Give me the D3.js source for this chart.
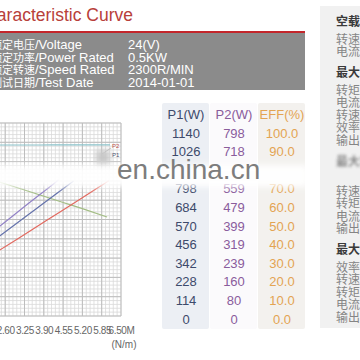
<!DOCTYPE html>
<html>
<head>
<meta charset="utf-8">
<script src="https://cdn.jsdelivr.net/npm/d3@7"></script>
<style>
  body { margin: 0; background: #fff; }
  svg { display: block; font-family: "Liberation Sans", Arial, sans-serif; }
</style>
</head>
<body>
<svg id="chart"></svg>
<script>
// spec box
const specNames = ["额定电压", "额定功率", "额定转速", "测试日期"];
const specNamesEn = ["/Voltage", "/Power Rated", "/Speed Rated", "/Test Date"];
const specValues = ["24(V)", "0.5KW", "2300R/MIN", "2014-01-01"];

// table (third row is hidden under the watermark in the picture)
const columns = ["P1(W)", "P2(W)", "EFF(%)"];
const p1Values = [1140, 1026, null, 798, 684, 570, 456, 342, 228, 114, 0];
const p2Values = [798, 718, null, 559, 479, 399, 319, 239, 160, 80, 0];
const effValues = [100.0, 90.0, null, 70.0, 60.0, 50.0, 40.0, 30.0, 20.0, 10.0, 0.0];

// curve chart (torque in N.m)
const torqueTicks = [2.60, 3.25, 3.90, 4.55, 5.20, 5.85, 6.50];
const tickLabels = ["2.60", "3.25", "3.90", "4.55", "5.20", "5.85", "6.50M"];
const tealCurve = [[2.2, 88.6], [3.5, 88.6], [4.8, 88.7], [6.13, 88.7]];
const greenCurve = [[2.2, 70.5], [3.25, 65.3], [4.55, 58.8], [5.2, 55.6], [6.03, 51.3]];
const purpleCurve = [[2.2, 43.9], [2.8, 51.2], [3.4, 58.5], [4.0, 65.7], [4.4, 70.6]];
const navyCurve = [[2.2, 39.0], [2.9, 47.0], [3.6, 55.0], [4.3, 63.1], [4.9, 70.0]];
const redCurve = [[2.2, 32.1], [3.0, 39.8], [4.0, 49.6], [5.0, 59.3], [6.1, 70.2]];

// right side panel
const panelHeaders = ["空载点", "最大转矩点", "最大功率点", "最大效率点"];
const panelRows = [
    ["转速", "电流"],
    ["转矩", "电流", "转速", "效率", "输出功率"],
    ["效率", "转速", "转矩", "电流", "输出功率"],
    ["效率", "转速", "转矩", "电流", "输出功率"]
];

const W = 360, H = 360;
const svg = d3.select("#chart").attr("width", W).attr("height", H);

const defs = svg.append("defs");
defs.append("filter").attr("id", "blur").attr("x", "-20%").attr("y", "-50%")
    .attr("width", "140%").attr("height", "200%")
    .append("feGaussianBlur").attr("stdDeviation", 3);
defs.append("filter").attr("id", "soft")
    .append("feGaussianBlur").attr("stdDeviation", 1.4);

// title
svg.append("text")
    .attr("x", 133).attr("y", 21)
    .attr("text-anchor", "end")
    .attr("font-size", 17.5)
    .attr("fill", "#b8403a")
    .text("Characteristic Curve");

// red rule + gray spec box
svg.append("rect").attr("x", 0).attr("y", 31).attr("width", 305).attr("height", 2).attr("fill", "#c4262b");
svg.append("rect").attr("x", 0).attr("y", 33).attr("width", 305).attr("height", 57).attr("fill", "#8b8b8b");

const specY = d3.scaleLinear().domain([0, 3]).range([49, 86.5]);
const spec = svg.append("g").attr("fill", "#fff").attr("font-size", 13);
specNames.forEach((n, i) => {
    const t = spec.append("text").attr("x", -9).attr("y", specY(i));
    t.append("tspan").attr("font-size", 11).attr("font-family", "'Noto Sans CJK SC', sans-serif").text(n);
    t.append("tspan").text(specNamesEn[i]);
    spec.append("text").attr("x", 128).attr("y", specY(i)).text(specValues[i]);
});

// right panel
svg.append("rect").attr("x", 320).attr("y", 6).attr("width", 40).attr("height", 322).attr("fill", "#f1f1f1");
const panel = svg.append("g").attr("font-family", "'Noto Sans CJK SC', sans-serif").attr("font-size", 12);
let py = 22;
panelHeaders.forEach((h, gi) => {
    if (gi > 0) py += 21;
    panel.append("text").attr("x", 336).attr("y", py).attr("dy", "0.35em")
        .attr("font-weight", "bold").attr("fill", "#3a3a3a")
        .attr("filter", gi === 2 ? "url(#soft)" : null)
        .attr("opacity", gi === 2 ? 0.6 : 1)
        .text(h);
    panelRows[gi].forEach((r, ri) => {
        py += ri === 0 ? 17.5 : 12.5;
        if (gi === 2 && ri === 0) return; // hidden under watermark
        panel.append("text").attr("x", 336).attr("y", py).attr("dy", "0.35em")
            .attr("fill", "#858585")
            .text(r);
    });
});

// table
const colX = d3.scalePoint().domain(columns).range([186, 282]);
const rowY = d3.scaleLinear().domain([0, p1Values.length - 1]).range([133, 319]);
const colColors = ["#3d4a6b", "#8a5c9c", "#e3a452"];
const colBg = ["#eceff4", "#fbfafc", "#f3f1ee"];
const colData = [p1Values, p2Values, effValues.map(v => v === null ? null : v.toFixed(1))];

const table = svg.append("g").attr("font-size", 13).attr("text-anchor", "middle");
columns.forEach((c, ci) => {
    table.append("rect")
        .attr("x", colX(c) - 24).attr("y", 103)
        .attr("width", 47).attr("height", 226)
        .attr("rx", 2)
        .attr("fill", colBg[ci]);
    table.append("text").attr("x", colX(c)).attr("y", 114).attr("dy", "0.35em")
        .attr("fill", colColors[ci]).text(c);
    table.selectAll(null)
        .data(colData[ci].map((v, i) => ({ v, i })).filter(d => d.v !== null))
        .enter().append("text")
        .attr("x", colX(c))
        .attr("y", d => rowY(d.i))
        .attr("dy", "0.35em")
        .attr("fill", colColors[ci])
        .text(d => d.v);
});

// curve chart
const x = d3.scaleLinear().domain([0, 6.5]).range([-72, 121]);
const y = d3.scaleLinear().domain([0, 100]).range([316, 123]);

const grid = svg.append("g");
const minorX = d3.range(0, 6.5001, 0.13);
const minorY = d3.range(0, 100.001, 2);
grid.selectAll(".mx").data(minorX).enter().append("line")
    .attr("x1", d => x(d)).attr("x2", d => x(d))
    .attr("y1", y(0)).attr("y2", y(100))
    .attr("stroke", "#d9d9d9").attr("stroke-width", 0.8);
grid.selectAll(".my").data(minorY).enter().append("line")
    .attr("x1", x(0)).attr("x2", x(6.5))
    .attr("y1", d => y(d)).attr("y2", d => y(d))
    .attr("stroke", "#d9d9d9").attr("stroke-width", 0.8);
grid.selectAll(".MX").data(d3.range(0, 6.5001, 0.65)).enter().append("line")
    .attr("x1", d => x(d)).attr("x2", d => x(d))
    .attr("y1", y(0)).attr("y2", y(100))
    .attr("stroke", "#bdbdbd").attr("stroke-width", 1);
grid.selectAll(".MY").data(d3.range(0, 100.001, 10)).enter().append("line")
    .attr("x1", x(0)).attr("x2", x(6.5))
    .attr("y1", d => y(d)).attr("y2", d => y(d))
    .attr("stroke", "#bdbdbd").attr("stroke-width", 1);

// x axis labels
const axis = svg.append("g")
    .attr("transform", `translate(0,${y(0)})`)
    .call(d3.axisBottom(x).tickValues(torqueTicks).tickSize(0).tickPadding(11)
        .tickFormat((d, i) => tickLabels[i]));
axis.select(".domain").remove();
axis.selectAll("text")
    .attr("font-family", "'Liberation Sans Narrow', 'Liberation Sans', sans-serif")
    .attr("font-size", 10).attr("fill", "#666")
    .attr("letter-spacing", -0.4);
svg.append("text").attr("x", 124).attr("y", 344).attr("dy", "0.35em")
    .attr("text-anchor", "middle")
    .attr("font-family", "'Liberation Sans Narrow', 'Liberation Sans', sans-serif")
    .attr("font-size", 10).attr("fill", "#666").text("(N/m)");

const line = d3.line().x(d => x(d[0])).y(d => y(d[1])).curve(d3.curveMonotoneX);
const curves = [
    { data: tealCurve, color: "#8cc3cb" },
    { data: greenCurve, color: "#a3bd84" },
    { data: purpleCurve, color: "#9282c6" },
    { data: navyCurve, color: "#6472ab" },
    { data: redCurve, color: "#e2695f" }
];
svg.append("g").selectAll("path").data(curves).enter().append("path")
    .attr("d", d => line(d.data))
    .attr("fill", "none")
    .attr("stroke", d => d.color)
    .attr("stroke-width", 1.2);

// curve tags
svg.append("text").attr("x", 112).attr("y", 148).attr("font-size", 6).attr("fill", "#c0504a").text("P2");
svg.append("text").attr("x", 112).attr("y", 157).attr("font-size", 6).attr("fill", "#505070").text("P1");
svg.append("line").attr("x1", 111).attr("y1", 148).attr("x2", 102).attr("y2", 154)
    .attr("stroke", "#999").attr("stroke-width", 0.6);

// watermark smudges
svg.append("rect").attr("x", 96).attr("y", 150).attr("width", 14).attr("height", 16)
    .attr("fill", "#c8c8c8").attr("filter", "url(#blur)");
svg.append("rect").attr("x", -10).attr("y", 165).attr("width", 318).attr("height", 22)
    .attr("fill", "#fff").attr("opacity", 0.95).attr("filter", "url(#blur)");
svg.append("text").attr("x", 117).attr("y", 179)
    .attr("font-size", 28).attr("fill", "#7d7d7d")
    .text("en.china.cn");
</script>
</body>
</html>
